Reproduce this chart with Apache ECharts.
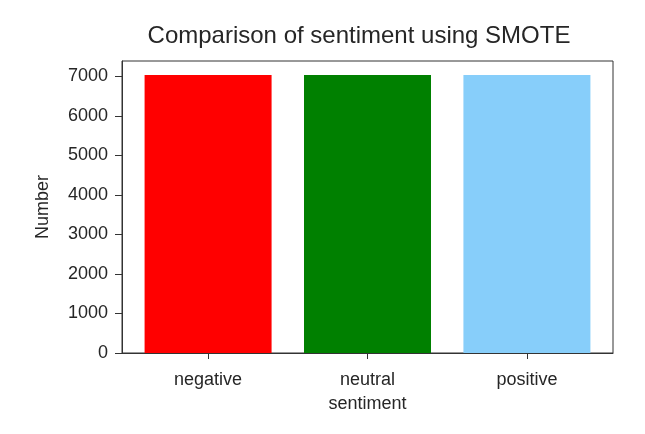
<!DOCTYPE html>
<html>
<head>
<meta charset="utf-8">
<script src="https://cdn.jsdelivr.net/npm/echarts@6/dist/echarts.min.js"></script>
<style>
  html, body { margin: 0; padding: 0; background: #fff; }
  #chart { width: 645px; height: 434px; }
</style>
</head>
<body>
<div id="chart"></div>
<script>
const categories = ['negative', 'neutral', 'positive']
const counts = [7040, 7040, 7040]
const barColors = ['#ff0000', '#008000', '#87cefa']
const yTicks = [0, 1000, 2000, 3000, 4000, 5000, 6000, 7000]
const xTicks = [0, 1, 2]

const chart = echarts.init(document.getElementById('chart'))
const font = 'Liberation Sans, Arial, sans-serif'
const ink = '#262626'

const option = {
  animation: false,
  backgroundColor: '#fff',
  title: {
    text: 'Comparison of sentiment using SMOTE',
    left: 354,
    top: 19,
    textAlign: 'center',
    textStyle: { fontFamily: font, fontSize: 24, fontWeight: 'normal', color: ink }
  },
  grid: {
    left: 122,
    right: 32,
    top: 61,
    bottom: 81,
    show: true,
    borderColor: '#333',
    borderWidth: 1
  },
  xAxis: {
    type: 'value',
    min: -0.54,
    max: 2.54,
    name: 'sentiment',
    nameLocation: 'middle',
    nameGap: 42,
    nameTextStyle: { fontFamily: font, fontSize: 18, color: ink },
    axisLine: { show: true, onZero: false, lineStyle: { color: '#333', width: 1 } },
    axisTick: { show: true, length: 6, customValues: xTicks, lineStyle: { color: '#333' } },
    axisLabel: {
      customValues: xTicks,
      margin: 18,
      fontFamily: font,
      fontSize: 18,
      color: ink,
      formatter: v => categories[Math.round(v)]
    },
    splitLine: { show: false }
  },
  yAxis: {
    type: 'value',
    min: 0,
    max: 7392,
    name: 'Number',
    nameLocation: 'middle',
    nameGap: 70,
    nameTextStyle: { fontFamily: font, fontSize: 18, color: ink },
    axisLine: { show: true, onZero: false, lineStyle: { color: '#333', width: 1 } },
    axisTick: { show: true, length: 7, customValues: yTicks, lineStyle: { color: '#333' } },
    axisLabel: {
      customValues: yTicks,
      margin: 14,
      fontFamily: font,
      fontSize: 18,
      color: ink,
      formatter: v => String(v)
    },
    splitLine: { show: false }
  },
  series: [{
    type: 'bar',
    barWidth: 127,
    data: counts.map((c, i) => ({
      value: [xTicks[i], c],
      itemStyle: { color: barColors[i] }
    }))
  }]
}

chart.setOption(option)
</script>
</body>
</html>
